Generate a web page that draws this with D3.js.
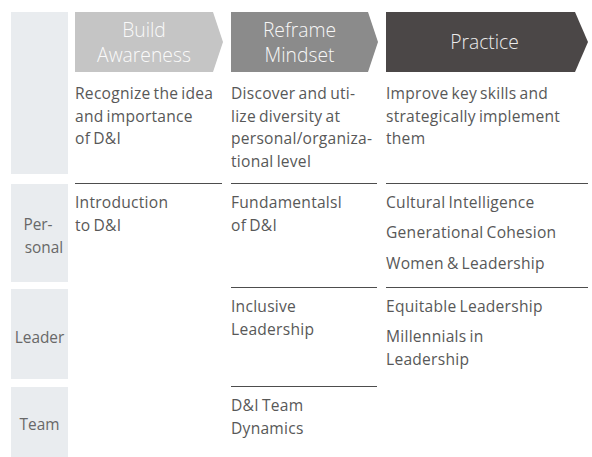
<!DOCTYPE html>
<html><head><meta charset="utf-8">
<script src="https://cdn.jsdelivr.net/npm/d3@7"></script>
<style>
html,body{margin:0;padding:0;background:#fff;}
svg{display:block;}
text{font-family:"Open Sans", "Noto Sans", sans-serif;}
.body{letter-spacing:0.25px;word-spacing:-1.2px;}
</style></head>
<body>
<svg id="chart" width="592" height="457"></svg>
<script>
// ---- data ----
const stages = ["Build Awareness", "Reframe Mindset", "Practice"];
const stageLabels = [["Build", "Awareness"], ["Reframe", "Mindset"], ["Practice"]];
const stageDescriptions = [
  ["Recognize the idea", "and importance", "of D&I"],
  ["Discover and uti-", "lize diversity at", "personal/organiza-", "tional level"],
  ["Improve key skills and", "strategically implement", "them"]
];
const levels = ["Personal", "Leader", "Team"];
const levelLabels = [["Per-", "sonal"], ["Leader"], ["Team"]];
const courseStages = ["Build Awareness", "Reframe Mindset", "Reframe Mindset", "Reframe Mindset",
  "Practice", "Practice", "Practice", "Practice", "Practice"];
const courseLevels = ["Personal", "Personal", "Leader", "Team",
  "Personal", "Personal", "Personal", "Leader", "Leader"];
const courseNames = [["Introduction", "to D&I"], ["Fundamentalsl", "of D&I"], ["Inclusive", "Leadership"], ["D&I Team", "Dynamics"],
  ["Cultural Intelligence"], ["Generational Cohesion"], ["Women & Leadership"], ["Equitable Leadership"], ["Millennials in", "Leadership"]];

// ---- layout ----
const svg = d3.select("#chart");
const stageColors = ["#c5c5c5", "#8b8b8b", "#4b4747"];
const stageTextColors = ["#fafafa", "#f7f7f7", "#ececec"];
const xStart = d3.scaleOrdinal(stages, [75, 231, 386]);
const xWidth = d3.scaleOrdinal(stages, [148, 147, 202]);
const tipDepth = d3.scaleOrdinal(stages, [10, 10, 13]);
const rowTop = d3.scaleOrdinal(levels, [184, 289, 387]);
const rowBottom = d3.scaleOrdinal(levels, [282, 379, 457]);
const ruleY = d3.scaleOrdinal(levels, [183.5, 287.5, 386.5]);
const arrowTop = 12, arrowBottom = 72;
const textColor = "#585858";
const fs = 15.6;

// left label column
svg.append("rect").attr("x", 11).attr("y", 12).attr("width", 57).attr("height", 162).attr("fill", "#e9ecef");
levels.forEach((lv, i) => {
  const t = rowTop(lv), b = rowBottom(lv);
  svg.append("rect").attr("x", 11).attr("y", t).attr("width", 57).attr("height", b - t).attr("fill", "#e9ecef");
  const lines = levelLabels[i];
  const cy = (t + Math.min(b, 455)) / 2 + 3;
  const lh = 23;
  lines.forEach((ln, j) => {
    svg.append("text")
      .attr("x", lines.length > 1 ? (j === 0 ? 38 : 44) : 39.5)
      .attr("y", cy + (j - (lines.length - 1) / 2) * lh + 5.5)
      .attr("text-anchor", "middle")
      .attr("font-size", 15.4).attr("fill", "#686868")
      .text(ln);
  });
});

// stage arrows
stages.forEach((s, i) => {
  const x0 = xStart(s), x1 = x0 + xWidth(s), d = tipDepth(s);
  const my = (arrowTop + arrowBottom) / 2;
  const pts = [[x0, arrowTop], [x1 - d, arrowTop], [x1, my], [x1 - d, arrowBottom], [x0, arrowBottom]];
  svg.append("path").attr("d", d3.line()(pts) + "Z").attr("fill", stageColors[i]);
  const lines = stageLabels[i];
  const cx = (x0 + x1 - d) / 2 + (i === 2 ? 4 : 0);
  lines.forEach((ln, j) => {
    svg.append("text")
      .attr("x", cx)
      .attr("y", my + (j - (lines.length - 1) / 2) * 25 + 7)
      .attr("text-anchor", "middle")
      .attr("font-size", 19.3).attr("font-weight", 300)
      .attr("fill", stageTextColors[i])
      .text(ln);
  });
  stageDescriptions[i].forEach((ln, j) => {
    svg.append("text").attr("class", "body")
      .attr("x", x0).attr("y", 99 + j * 22.7)
      .attr("font-size", fs).attr("fill", textColor)
      .text(ln);
  });
});

// cells: rules + course items
const cells = d3.groups(courseNames.map((n, i) => ({ stage: courseStages[i], level: courseLevels[i], lines: n })),
  d => d.stage + "|" + d.level);
cells.forEach(([key, items]) => {
  const s = items[0].stage, lv = items[0].level;
  const x0 = xStart(s), y0 = ruleY(lv);
  svg.append("line")
    .attr("x1", x0).attr("x2", x0 + xWidth(s) - (s === "Practice" ? 0 : 1))
    .attr("y1", y0).attr("y2", y0)
    .attr("stroke", "#4d4d4d").attr("stroke-width", 1);
  let y = y0 + 24;
  items.forEach(it => {
    it.lines.forEach((ln, j) => {
      svg.append("text").attr("class", "body")
        .attr("x", x0).attr("y", y + j * 23)
        .attr("font-size", fs).attr("fill", textColor)
        .text(ln);
    });
    y += (it.lines.length - 1) * 23 + 30.5;
  });
});
</script>
</body></html>
